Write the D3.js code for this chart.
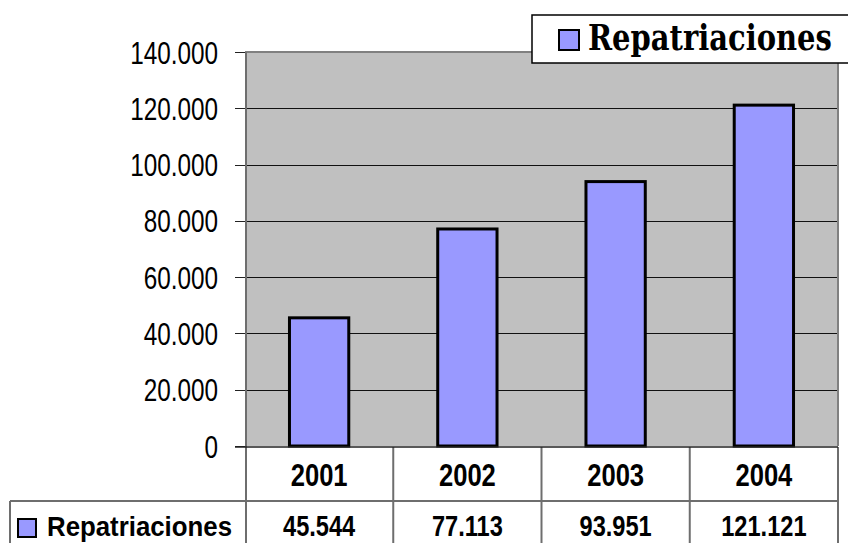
<!DOCTYPE html>
<html>
<head>
<meta charset="utf-8">
<script src="https://cdn.jsdelivr.net/npm/d3@7"></script>
<style>
  body { margin: 0; background: #fff; }
  svg { display: block; }
</style>
</head>
<body>
<svg id="chart" width="848" height="543"></svg>
<script>
// data
const years = ["2001", "2002", "2003", "2004"];
const repatriaciones = [45544, 77113, 93951, 121121];
const seriesName = "Repatriaciones";
const yTicks = [0, 20000, 40000, 60000, 80000, 100000, 120000, 140000];

const svg = d3.select("#chart");
const plot = { left: 245, right: 838, top: 52, bottom: 446 };
const barColor = "#9999FF";
const sans = "'Liberation Sans', Arial, sans-serif";

// spanish thousands separator: 140.000
const fmt = d3.formatLocale({ decimal: ",", thousands: ".", grouping: [3], currency: ["", ""] }).format(",d");

const x = d3.scaleBand()
    .domain(years)
    .range([plot.left, plot.right])
    .paddingInner(0.6)
    .paddingOuter(0.3);

const y = d3.scaleLinear()
    .domain([0, 140000])
    .range([plot.bottom, plot.top]);

const step = x.step();

// plot background
svg.append("rect")
    .attr("x", plot.left)
    .attr("y", plot.top)
    .attr("width", plot.right - plot.left)
    .attr("height", plot.bottom - plot.top)
    .attr("fill", "#C0C0C0");

// gridlines
svg.append("g")
    .selectAll("line")
    .data(yTicks.filter(d => d > 0 && d < 140000))
    .join("line")
    .attr("x1", plot.left)
    .attr("x2", plot.right)
    .attr("y1", d => Math.round(y(d)) + 0.5)
    .attr("y2", d => Math.round(y(d)) + 0.5)
    .attr("stroke", "#111")
    .attr("stroke-width", 1);

// plot border (top, right)
svg.append("path")
    .attr("d", `M${plot.left},${plot.top} H${plot.right} V${plot.bottom}`)
    .attr("fill", "none")
    .attr("stroke", "#808080")
    .attr("stroke-width", 2);

// bars
svg.append("g")
    .selectAll("rect")
    .data(repatriaciones)
    .join("rect")
    .attr("x", (d, i) => x(years[i]))
    .attr("y", d => y(d))
    .attr("width", x.bandwidth())
    .attr("height", d => y(0) - y(d))
    .attr("fill", barColor)
    .attr("stroke", "#000")
    .attr("stroke-width", 3);

// y axis ticks and labels
const yAxis = svg.append("g");
yAxis.selectAll("line")
    .data(yTicks)
    .join("line")
    .attr("x1", plot.left - 10)
    .attr("x2", plot.left)
    .attr("y1", d => Math.round(y(d)) + 0.5)
    .attr("y2", d => Math.round(y(d)) + 0.5)
    .attr("stroke", "#222")
    .attr("stroke-width", 1);

yAxis.selectAll("text")
    .data(yTicks)
    .join("text")
    .attr("transform", d => `translate(218,${y(d)}) scale(0.76,1)`)
    .attr("dy", "0.36em")
    .attr("text-anchor", "end")
    .style("font-family", sans)
    .style("font-size", "32px")
    .attr("fill", "#000")
    .text(d => fmt(d));

// data table
const tableTop = 447, rowLine = 501, tableBottom = 543;
const lineColor = "#6e6e6e";
const grid = svg.append("g").attr("stroke", lineColor).attr("stroke-width", 2).attr("fill", "none");

// axis line running down through the table
grid.append("line")
    .attr("x1", plot.left + 1).attr("x2", plot.left + 1)
    .attr("y1", plot.top).attr("y2", tableBottom);
// bottom of plot / table top
svg.append("line")
    .attr("x1", plot.left - 10).attr("x2", plot.right)
    .attr("y1", tableTop).attr("y2", tableTop)
    .attr("stroke", "#222").attr("stroke-width", 1.5);
// row separator
grid.append("line")
    .attr("x1", 10).attr("x2", plot.right)
    .attr("y1", rowLine).attr("y2", rowLine);
// left border of legend cell
grid.append("line")
    .attr("x1", 10).attr("x2", 10)
    .attr("y1", rowLine).attr("y2", tableBottom);
// column separators
grid.selectAll("line.col")
    .data(years)
    .join("line")
    .attr("class", "col")
    .attr("x1", d => x(d) + x.bandwidth() / 2 + step / 2)
    .attr("x2", d => x(d) + x.bandwidth() / 2 + step / 2)
    .attr("y1", tableTop)
    .attr("y2", tableBottom);

const cellText = (g, data, yBase, size, label) => g.selectAll("text")
    .data(data)
    .join("text")
    .attr("transform", (d, i) => `translate(${x(years[i]) + x.bandwidth() / 2},${yBase}) scale(0.8,1)`)
    .attr("text-anchor", "middle")
    .style("font-family", sans)
    .style("font-weight", "bold")
    .style("font-size", size + "px")
    .attr("fill", "#000")
    .text(label);

cellText(svg.append("g"), years, 486, 32, d => d);
cellText(svg.append("g"), repatriaciones, 536, 29.5, d => fmt(d));

// legend key in the table
svg.append("rect")
    .attr("x", 18).attr("y", 519)
    .attr("width", 18).attr("height", 18)
    .attr("fill", barColor)
    .attr("stroke", "#000")
    .attr("stroke-width", 2);
svg.append("text")
    .attr("x", 47).attr("y", 536)
    .attr("textLength", 185)
    .attr("lengthAdjust", "spacingAndGlyphs")
    .style("font-family", sans)
    .style("font-weight", "bold")
    .style("font-size", "28px")
    .attr("fill", "#000")
    .text(seriesName);

// legend box at the top (runs off the right edge, as in the original)
const legend = svg.append("g");
legend.append("rect")
    .attr("x", 532).attr("y", 15)
    .attr("width", 330).attr("height", 48)
    .attr("fill", "#fff")
    .attr("stroke", "#000")
    .attr("stroke-width", 1.5);
legend.append("rect")
    .attr("x", 559).attr("y", 30)
    .attr("width", 20).attr("height", 20)
    .attr("fill", barColor)
    .attr("stroke", "#000")
    .attr("stroke-width", 2);
const legendText = legend.append("text")
    .style("font-family", "'DejaVu Serif', serif")
    .style("font-weight", "bold")
    .style("font-size", "35px")
    .attr("fill", "#000")
    .text(seriesName);
// squeeze the label into the box width
const natural = legendText.node().getComputedTextLength();
legendText.attr("transform", `translate(588,50) scale(${244 / natural},1)`);
</script>
</body>
</html>
